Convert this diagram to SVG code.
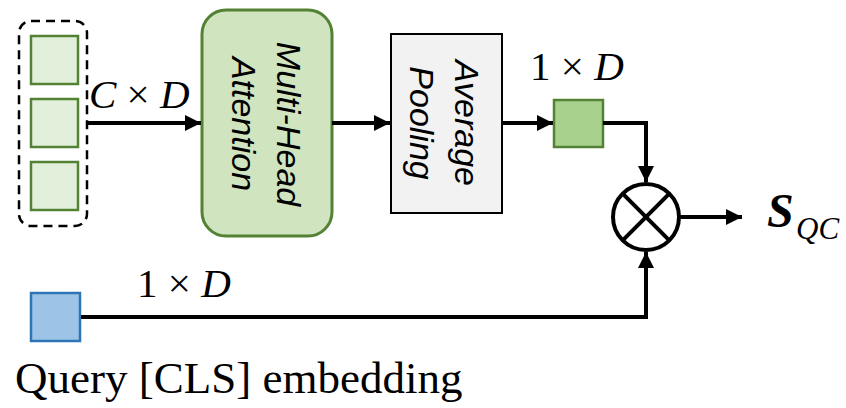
<svg xmlns="http://www.w3.org/2000/svg" width="846" height="408" viewBox="0 0 846 408">
  <defs>
    <marker id="arrow" viewBox="0 0 10 10" refX="10" refY="5" markerWidth="4" markerHeight="4" markerUnits="strokeWidth" orient="auto">
      <path d="M0,0 L10,5 L0,10 z" fill="#000"/>
    </marker>
    <style>
      .token { fill: #e2efda; stroke: #548235; stroke-width: 2.5; }
      .conn { fill: none; stroke: #000; stroke-width: 4; }
      .math { font-family: "Liberation Serif", "Times New Roman", serif; font-size: 41px; fill: #000; }
      .blocklabel { font-family: "Liberation Sans", Arial, sans-serif; font-style: italic; font-size: 34px; fill: #000; text-anchor: middle; }
    </style>
  </defs>

  <!-- query-context token set -->
  <g id="context-tokens">
    <rect x="19" y="21" width="68" height="205" rx="12" fill="none" stroke="#000" stroke-width="2.5" stroke-dasharray="9,6"/>
    <rect class="token" x="31" y="36" width="47" height="48"/>
    <rect class="token" x="31" y="99" width="47" height="48"/>
    <rect class="token" x="31" y="162" width="47" height="48"/>
  </g>

  <g id="mha">
    <rect x="202" y="10" width="130" height="226" rx="24" fill="#d0e4c0" stroke="#548235" stroke-width="3"/>
    <text class="blocklabel" transform="translate(277,124) rotate(90)">Multi-Head</text>
    <text class="blocklabel" transform="translate(232,124) rotate(90)">Attention</text>
  </g>

  <g id="avg-pool">
    <rect x="391" y="34" width="111" height="179" fill="#f2f2f2" stroke="#000" stroke-width="2"/>
    <text class="blocklabel" transform="translate(455,123) rotate(90)">Average</text>
    <text class="blocklabel" transform="translate(410,123) rotate(90)">Pooling</text>
  </g>

  <g id="pooled-token">
    <rect x="554" y="100" width="49" height="47" fill="#a9d18e" stroke="#548235" stroke-width="2.5"/>
  </g>

  <g id="query-cls">
    <rect x="31" y="293" width="49" height="48" fill="#9dc3e6" stroke="#2e75b6" stroke-width="2.5"/>
    <text x="15" y="393" font-family="Liberation Serif, 'Times New Roman', serif" font-size="45" fill="#000">Query [CLS] embedding</text>
  </g>

  <g id="product">
    <circle cx="646" cy="217" r="33" fill="#fff" stroke="#000" stroke-width="4"/>
    <line x1="622.7" y1="193.7" x2="669.3" y2="240.3" stroke="#000" stroke-width="4"/>
    <line x1="669.3" y1="193.7" x2="622.7" y2="240.3" stroke="#000" stroke-width="4"/>
  </g>

  <g id="score">
    <text x="767" y="227" font-family="Liberation Serif, 'Times New Roman', serif" font-size="48" font-weight="bold" font-style="italic" fill="#000">S</text>
    <text x="796" y="239" font-family="Liberation Serif, 'Times New Roman', serif" font-size="31" font-style="italic" fill="#000">QC</text>
  </g>

  <g id="connectors">
    <line class="conn" x1="87" y1="123" x2="201" y2="123" marker-end="url(#arrow)"/>
    <line class="conn" x1="332" y1="123" x2="390" y2="123" marker-end="url(#arrow)"/>
    <line class="conn" x1="502" y1="123" x2="553" y2="123" marker-end="url(#arrow)"/>
    <polyline class="conn" points="603,123 646,123 646,182" marker-end="url(#arrow)"/>
    <polyline class="conn" points="81,317 646,317 646,252" marker-end="url(#arrow)"/>
    <line class="conn" x1="680" y1="217" x2="742" y2="217" marker-end="url(#arrow)"/>
  </g>

  <g id="dim-labels">
    <text class="math" x="89" y="108" xml:space="preserve"><tspan font-style="italic">C</tspan> × <tspan font-style="italic">D</tspan></text>
    <text class="math" x="530" y="80" xml:space="preserve">1 × <tspan font-style="italic">D</tspan></text>
    <text class="math" x="137" y="297" xml:space="preserve">1 × <tspan font-style="italic">D</tspan></text>
  </g>
</svg>
